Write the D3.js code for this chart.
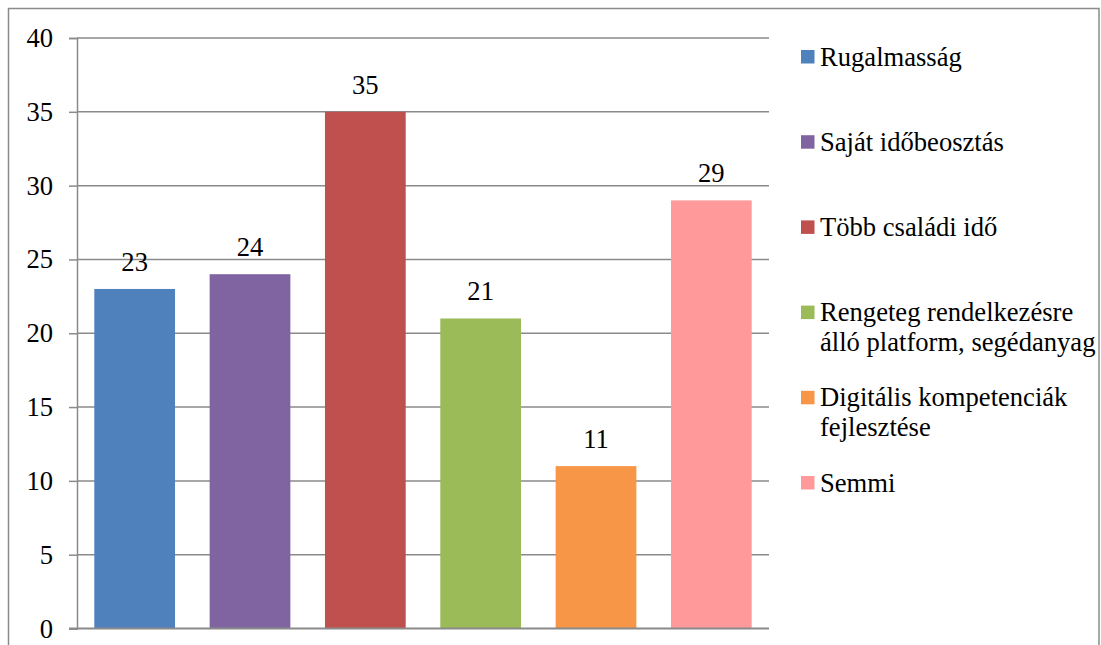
<!DOCTYPE html>
<html>
<head>
<meta charset="utf-8">
<script src="https://cdn.jsdelivr.net/npm/d3@7"></script>
<style>
  html, body { margin: 0; padding: 0; background: #fff; }
  svg { display: block; }
</style>
</head>
<body>
<svg id="chart" width="1101" height="645"></svg>
<script>
const categories = ["Rugalmasság", "Saját időbeosztás", "Több családi idő",
  "Rengeteg rendelkezésre álló platform, segédanyag", "Digitális kompetenciák fejlesztése", "Semmi"];
const legendLines = [["Rugalmasság"], ["Saját időbeosztás"], ["Több családi idő"],
  ["Rengeteg rendelkezésre", "álló platform, segédanyag"], ["Digitális kompetenciák", "fejlesztése"], ["Semmi"]];
const values = [23, 24, 35, 21, 11, 29];
const colors = ["#4F81BD", "#8064A2", "#C0504D", "#9BBB59", "#F79646", "#FF999A"];
const yTicks = [0, 5, 10, 15, 20, 25, 30, 35, 40];

const svg = d3.select("#chart");
const gridColor = "#8A8A8A";
const fontSize = "26.6px";
const fontFam = "'Liberation Serif'";

// outer border
svg.append("rect").attr("x", 8.5).attr("y", 8.5).attr("width", 1090.5).attr("height", 660)
  .attr("fill", "none").attr("stroke", "#8A8A8A").attr("stroke-width", 1.5);

const plot = { left: 77, right: 769, top: 38, bottom: 628.5 };

const x = d3.scaleBand().domain(categories).range([plot.left, plot.right]).paddingInner(0.3).paddingOuter(0.15);
const y = d3.scaleLinear().domain([0, 40]).range([plot.bottom, plot.top]);

// gridlines
svg.append("g").selectAll("line").data(yTicks.filter(d => d > 0)).join("line")
  .attr("x1", plot.left).attr("x2", plot.right)
  .attr("y1", d => y(d)).attr("y2", d => y(d))
  .attr("stroke", gridColor).attr("stroke-width", 1.5);

// y axis
const yAxis = d3.axisLeft(y).tickValues(yTicks).tickSize(8).tickPadding(16).tickFormat(d3.format("d"));
const gy = svg.append("g").attr("transform", `translate(${plot.left},0)`).call(yAxis);
gy.attr("font-family", null).attr("font-size", null);
gy.select(".domain").attr("stroke", gridColor).attr("stroke-width", 1.5);
gy.selectAll(".tick line").attr("stroke", gridColor).attr("stroke-width", 1.5);
gy.selectAll(".tick text").style("font-size", fontSize).style("font-family", fontFam).attr("fill", "#000");

// bars
svg.append("g").selectAll("rect").data(values).join("rect")
  .attr("x", (d, i) => x(categories[i]))
  .attr("width", x.bandwidth())
  .attr("y", d => y(d))
  .attr("height", d => y(0) - y(d))
  .attr("fill", (d, i) => colors[i]);

// x axis baseline
svg.append("line").attr("x1", plot.left - 8).attr("x2", plot.right)
  .attr("y1", y(0)).attr("y2", y(0)).attr("stroke", gridColor).attr("stroke-width", 2);

// data labels
svg.append("g").selectAll("text").data(values).join("text")
  .attr("x", (d, i) => x(categories[i]) + x.bandwidth() / 2)
  .attr("y", d => y(d) - 18)
  .attr("text-anchor", "middle")
  .style("font-size", fontSize).style("font-family", fontFam)
  .attr("fill", "#000")
  .text(d => d);

// legend
const legendTop = 57, legendStep = 85.2, lineH = 30;
const lg = svg.append("g");
legendLines.forEach((lines, i) => {
  const cy = legendTop + i * legendStep;
  lg.append("rect").attr("x", 801).attr("y", cy - 7).attr("width", 13.5).attr("height", 13.5).attr("fill", colors[i]);
  lines.forEach((t, j) => {
    lg.append("text").attr("x", 820).attr("y", cy + 8.5 + j * lineH)
      .style("font-size", fontSize).style("font-family", fontFam).attr("fill", "#000").text(t);
  });
});
</script>
</body>
</html>
